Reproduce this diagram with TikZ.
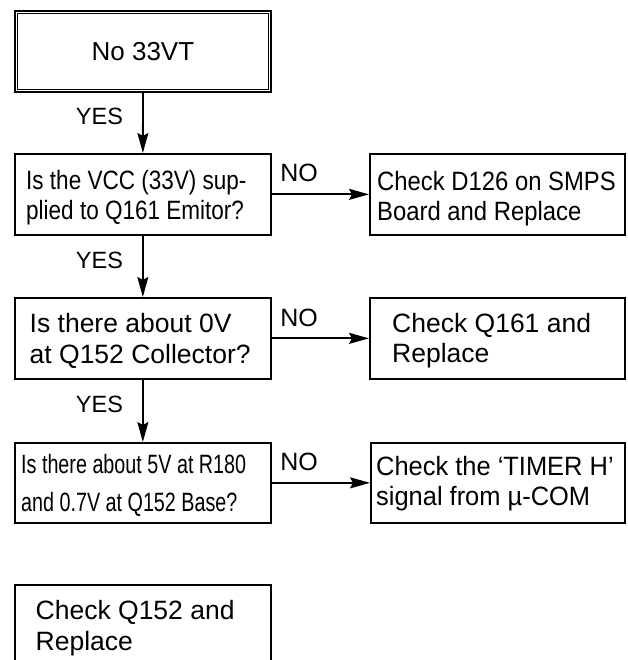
\documentclass[tikz,border=0pt]{standalone}
\usepackage{fontspec}
\setmainfont{Liberation Sans}
\newfontfamily\fnorm{Liberation Sans}
\newfontfamily\fcondA[FakeStretch=0.85]{Liberation Sans}
\newfontfamily\fcondB[FakeStretch=0.9]{Liberation Sans}
\newfontfamily\fcondC[FakeStretch=0.745]{Liberation Sans}
\newfontfamily\fcondD[FakeStretch=0.96]{Liberation Sans}
\usetikzlibrary{arrows.meta}
\begin{document}
\begin{tikzpicture}[x=1pt,y=-1pt,
  box/.style={draw, line width=1.7pt, minimum width=256pt, minimum height=81pt,
    inner sep=0pt, anchor=north west},
  rbox/.style={box, minimum width=255pt},
  txt/.style={anchor=north west, inner sep=0pt, align=left},
  lbl/.style={anchor=base, inner sep=0pt},
  arr/.style={line width=1.8pt, -{Stealth[length=20pt,width=11pt,inset=3pt]}}]
\clip (0,0) rectangle (627,660);
\fill[white] (0,0) rectangle (627,660);

% top box (double border)
\node[box, line width=1.9pt, font=\fnorm\fontsize{26}{31}\selectfont] (top) at (14,10) {No 33VT};
\draw[line width=0.9pt] ([shift={(3.5,3.5)}]top.north west) rectangle ([shift={(-3.5,-3.5)}]top.south east);

% left column
\node[box] (b1) at (14,153) {};
\node[box] (b2) at (14,297) {};
\node[box, minimum height=80pt] (b3) at (14,442) {};
\node[box, minimum height=90pt] (b4) at (14,584) {};

% right column
\node[rbox] (r1) at (369,153) {};
\node[rbox] (r2) at (369,297) {};
\node[rbox, minimum height=80pt, minimum width=254pt] (r3) at (370,442) {};

% texts
\node[txt, font=\fcondA\fontsize{26.5}{30}\selectfont] (t1) at (26,169)
  {\rule{0pt}{20pt}Is the VCC (33V) sup-\\plied to Q161 Emitor?};
\node[txt, font=\fcondB\fontsize{26.5}{30}\selectfont] (tr1) at (377,170)
  {\rule{0pt}{20pt}Check D126 on SMPS\\Board and Replace};
\node[txt, font=\fnorm\fontsize{26.5}{31}\selectfont] (t2) at (29.5,312)
  {\rule{0pt}{20pt}Is there about 0V\\at Q152 Collector?};
\node[txt, font=\fnorm\fontsize{26.5}{30}\selectfont] (tr2) at (392,312)
  {\rule{0pt}{20pt}Check Q161 and\\Replace};
\node[txt, font=\fcondC\fontsize{26.5}{38}\selectfont] (t3) at (21,453)
  {\rule{0pt}{20pt}Is there about 5V at R180\\and 0.7V at Q152 Base?};
\node[txt, font=\fcondD\fontsize{26.5}{30}\selectfont] (tr3) at (376,455)
  {\rule{0pt}{20pt}Check the ‘TIMER H’\\signal from µ-COM};
\node[txt, font=\fnorm\fontsize{26.5}{31}\selectfont] (t4) at (35.5,599)
  {\rule{0pt}{20pt}Check Q152 and\\Replace};

% connectors
\draw[arr] (top.south) -- (b1.north);
\draw[arr] (b1.south) -- (b2.north);
\draw[arr] (b2.south) -- (b3.north);
\draw[arr] (b1.east) -- (r1.west);
\draw[arr] (b2.east) -- (r2.west);
\draw[arr] (b3.east) -- (r3.west);

% labels
\node[lbl, font=\fnorm\fontsize{23.5}{28}\selectfont] (y1) at (99.5,125) {YES};
\node[lbl, font=\fnorm\fontsize{23.5}{28}\selectfont] (y2) at (99.5,268) {YES};
\node[lbl, font=\fnorm\fontsize{23.5}{28}\selectfont] (y3) at (99.5,412) {YES};
\node[lbl, font=\fnorm\fontsize{25}{30}\selectfont] (n1) at (299,182) {NO};
\node[lbl, font=\fnorm\fontsize{25}{30}\selectfont] (n2) at (299,326) {NO};
\node[lbl, font=\fnorm\fontsize{25}{30}\selectfont] (n3) at (299,470) {NO};
\end{tikzpicture}
\end{document}
